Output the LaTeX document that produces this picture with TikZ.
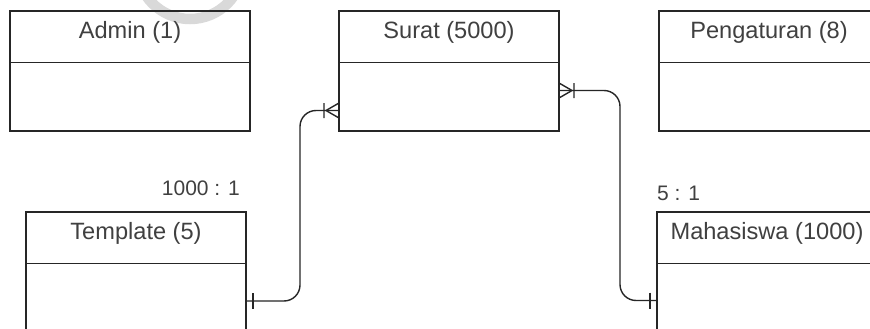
\documentclass[tikz,border=0pt]{standalone}
\usepackage{fontspec}
\setmainfont{Liberation Sans}
\usetikzlibrary{calc}
\begin{document}
\begin{tikzpicture}[x=1pt,y=-1pt,
  hdr/.style={draw=black!85, line width=1.8pt, minimum height=51.5pt, inner sep=0pt, outer sep=0pt,
    anchor=north west, font=\fontsize{23.6}{26}\selectfont, text=black!75,
    text height=0.65em, text depth=0.35em},
  body/.style={draw=black!85, line width=1.8pt, anchor=north west, inner sep=0pt, outer sep=0pt},
  conn/.style={draw=black!85, line width=1.4pt},
  lbl/.style={font=\fontsize{21}{24}\selectfont, text=black!75, inner sep=0pt}]
\useasboundingbox (0,0) rectangle (870,329);
\clip (0,0) rectangle (870,329);
\fill[white] (0,0) rectangle (870,329);
% watermark arc
\draw[line width=10.5pt, draw=black!15] (190,-34) circle[radius=53];
% entities
\node[hdr, minimum width=240pt] (aH) at (10,11) {Admin (1)};
\node[body, minimum width=240pt, minimum height=68.5pt] (aB) at (aH.south west) {};
\node[hdr, minimum width=220pt] (sH) at (339,11) {Surat (5000)};
\node[body, minimum width=220pt, minimum height=68.5pt] (sB) at (sH.south west) {};
\node[hdr, minimum width=220pt] (pH) at (659,11) {Pengaturan (8)};
\node[body, minimum width=220pt, minimum height=68.5pt] (pB) at (pH.south west) {};
\node[hdr, minimum width=220pt] (tH) at (26,212) {Template (5)};
\node[body, minimum width=220pt, minimum height=120pt] (tB) at (tH.south west) {};
\node[hdr, minimum width=220pt] (mH) at (657,212) {Mahasiswa (1000)};
\node[body, minimum width=220pt, minimum height=120pt] (mB) at (mH.south west) {};
% labels
\node[lbl, anchor=base east] (l1) at (240,195) {1000 : 1};
\node[lbl, anchor=base west] (l2) at (657,200) {5 : 1};
% connection points
\coordinate (t1) at ([yshift=-37.5pt]tB.north east);
\coordinate (s1) at ([yshift=-48pt]sB.north west);
\coordinate (s2) at ([yshift=-28pt]sB.north east);
\coordinate (m1) at ([yshift=-37pt]mB.north west);
% connectors
\draw[conn, rounded corners=16pt] (t1) -- ++(54,0) |- (s1);
\draw[conn, rounded corners=16pt] (s2) -- ++(61,0) |- (m1);
% crow's feet (many) at Surat
\draw[conn] ($(s1)+(-13,0)$) -- ($(s1)+(0,-7.5)$) ($(s1)+(-13,0)$) -- ($(s1)+(0,7.5)$)
  ($(s1)+(-15,-7.5)$) -- ($(s1)+(-15,7.5)$);
\draw[conn] ($(s2)+(13,0)$) -- ($(s2)+(0,-7.5)$) ($(s2)+(13,0)$) -- ($(s2)+(0,7.5)$)
  ($(s2)+(15,-7.5)$) -- ($(s2)+(15,7.5)$);
% one bars
\draw[conn] ($(t1)+(7,-8)$) -- ($(t1)+(7,8)$);
\draw[conn] ($(m1)+(-7,-8)$) -- ($(m1)+(-7,8)$);
\end{tikzpicture}
\end{document}
